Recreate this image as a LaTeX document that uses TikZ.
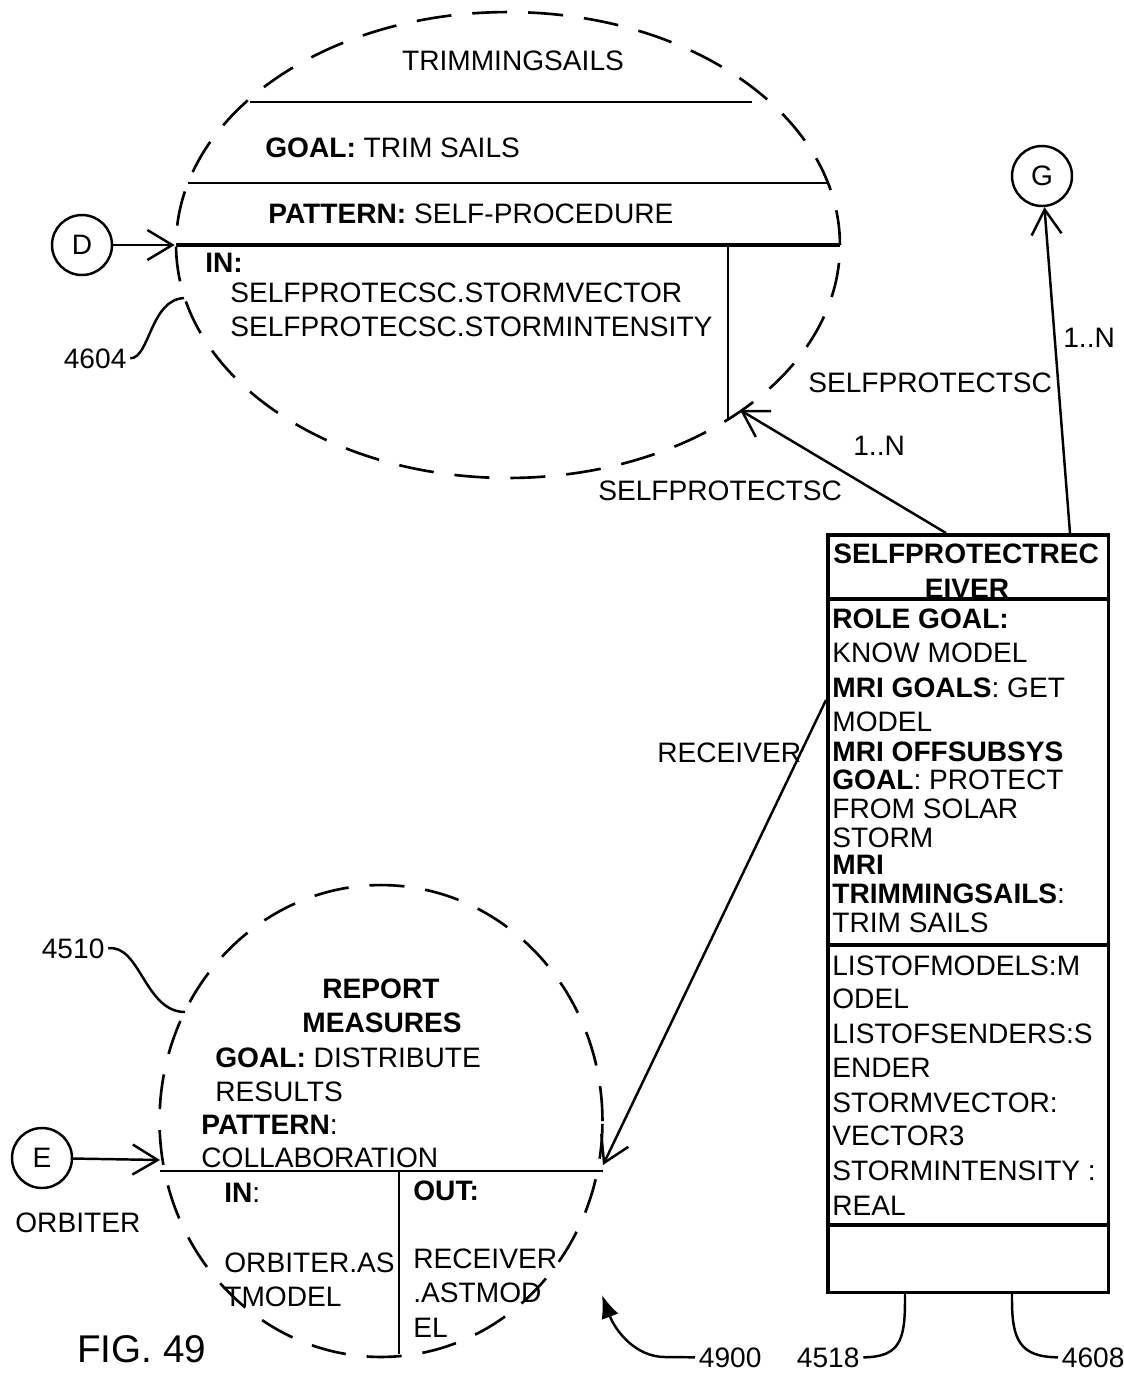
\documentclass[tikz,border=0pt]{standalone}
\usepackage{fontspec}
\setmainfont{Liberation Sans}
\usetikzlibrary{arrows.meta,shapes.geometric,positioning}

\begin{document}
\begin{tikzpicture}[x=0.02cm, y=-0.02cm, every node/.style={font=\fontsize{16}{19}\selectfont},
	txt/.style={anchor=base west, inner sep=0pt},
	ref/.style={anchor=base west, inner sep=2pt},
	dsh/.style={draw, ellipse, line width=1.5pt, dash pattern=on 0.7cm off 0.42cm, inner sep=0pt},
	ln/.style={line width=1.4pt},
	arr/.style={line width=1.4pt, -{Straight Barb[length=5mm,width=6mm]}},
	tag/.style={draw, circle, line width=1.4pt, minimum size=1.2cm, inner sep=0pt}]
	\useasboundingbox (0,0) rectangle (1124,1374);
	% upper ellipse: TRIMMINGSAILS
	\node[dsh, minimum width=13.28cm, minimum height=9.32cm] (trim) at (508,245) {};
	\draw[ln] (250,102) -- (752,102);
	\draw[ln] (188,183) -- (828,183);
	\draw[line width=2pt] (176,245) -- (840,245);
	\draw[ln] (728,245) -- (728,420);
	\node[anchor=base, inner sep=0pt] (trimname) at (513,70) {TRIMMINGSAILS};
	\node[txt] (trimgoal) at (265,157) {\textbf{GOAL:} TRIM SAILS};
	\node[txt] (trimpat) at (268,223) {\textbf{PATTERN:} SELF-PROCEDURE};
	\node[txt] (trimin) at (205,272) {\textbf{IN:}};
	\node[txt] (trimv) at (230,302) {SELFPROTECSC.STORMVECTOR};
	\node[txt] (trimi) at (230,336) {SELFPROTECSC.STORMINTENSITY};
	\node[tag] (d) at (82,245) {D};
	\draw[arr] (d) -- (trim.west);
	\node[ref] (n4604) at (60,368) {4604};
	\draw[ln] (n4604.east) .. controls (150,358) and (150,300) .. (184,298);
	% G connector
	\node[tag] (g) at (1042,176) {G};
	% receiver box
	\node[draw, line width=2pt, anchor=north west, minimum width=5.62cm, minimum height=15.16cm, inner sep=0pt] (rcv) at (826,533) {};
	\draw[line width=2pt] (826,599) -- (1107,599);
	\draw[line width=2pt] (826,945) -- (1107,945);
	\draw[line width=2pt] (826,1225) -- (1107,1225);
	\node[txt] (rcvname) at (833,563) {\textbf{SELFPROTECTREC}};
	\node[anchor=base, inner sep=0pt] (rcvname2) at (967,598) {\textbf{EIVER}};
	\foreach \yy/\rowtext [count=\i] in {628/{\textbf{ROLE GOAL:}}, 662/{KNOW MODEL}, 697/{\textbf{MRI GOALS}: GET}, 731/{MODEL}, 761/{\textbf{MRI OFFSUBSYS}}, 789/{\textbf{GOAL}: PROTECT}, 818/{FROM SOLAR}, 847/{STORM}, 874/{\textbf{MRI}}, 903/{\textbf{TRIMMINGSAILS}:}, 932/{TRIM SAILS}}
		\node[txt] (role\i) at (832,\yy) {\rowtext};
	\foreach \yy/\rowtext [count=\i] in {975/{LISTOFMODELS:M}, 1008/{ODEL}, 1043/{LISTOFSENDERS:S}, 1077/{ENDER}, 1112/{STORMVECTOR:}, 1145/{VECTOR3}, 1180/{STORMINTENSITY :}, 1215/{REAL}}
		\node[txt] (attr\i) at (832,\yy) {\rowtext};
	\coordinate (rcvA) at (946,533);
	\coordinate (rcvB) at (1070,533);
	\coordinate (rcvC) at (826,700);
	\coordinate (trimend) at (740,410);
	\draw[arr] (rcvA) -- (trimend);
	\draw[arr] (rcvB) -- (g);
	\node[txt] (sc1) at (808,392) {SELFPROTECTSC};
	\node[txt] (m1) at (1063,347) {1..N};
	\node[txt] (m2) at (853,455) {1..N};
	\node[txt] (sc2) at (598,500) {SELFPROTECTSC};
	\node[txt] (recv) at (657,762) {RECEIVER};
	\node[ref] (n4518) at (793,1367) {4518};
	\node[ref] (n4608) at (1058,1367) {4608};
	\draw[ln] (n4518.east) .. controls (900,1357) and (905,1340) .. (905,1300) -- (905,1291);
	\draw[ln] (n4608.west) .. controls (1020,1357) and (1012,1340) .. (1012,1300) -- (1012,1291);
	% lower ellipse: REPORT MEASURES
	\node[dsh, minimum width=8.86cm, minimum height=9.44cm] (rep) at (381,1121) {};
	\draw[ln] (160,1171) -- (603,1171);
	\draw[ln] (399,1171) -- (399,1354);
	\node[anchor=base, inner sep=0pt] (repname) at (381,998) {\textbf{REPORT}};
	\node[anchor=base, inner sep=0pt] (repname2) at (382,1032) {\textbf{MEASURES}};
	\node[txt] (repgoal) at (215,1067) {\textbf{GOAL:} DISTRIBUTE};
	\node[txt] (repgoal2) at (215,1101) {RESULTS};
	\node[txt] (reppat) at (201,1134) {\textbf{PATTERN}:};
	\node[txt] (reppat2) at (201,1167) {COLLABORATION};
	\node[txt] (repin) at (224,1202) {\textbf{IN}:};
	\node[txt] (repout) at (413,1200) {\textbf{OUT:}};
	\node[txt] (repin1) at (224,1272) {ORBITER.AS};
	\node[txt] (repin2) at (224,1306) {TMODEL};
	\node[txt] (repout1) at (413,1268) {RECEIVER};
	\node[txt] (repout2) at (413,1302) {.ASTMOD};
	\node[txt] (repout3) at (413,1337) {EL};
	\node[tag] (e) at (42,1158) {E};
	\node[txt] (orb) at (15,1232) {ORBITER};
	\coordinate (repleft) at (160,1160);
	\coordinate (repright) at (603,1165);
	\draw[arr] (e) -- (repleft);
	\draw[arr] (rcvC) -- (repright);
	\node[ref] (n4510) at (38,958) {4510};
	\draw[ln] (n4510.east) .. controls (140,944) and (145,1012) .. (185,1012);
	\node[ref] (n4900) at (695,1367) {4900};
	\coordinate (tip4900) at (602,1295);
	\draw[ln, -{Latex[length=4.6mm,width=3.6mm]}] (n4900.west) -- (665,1357) .. controls (635,1357) and (615,1330) .. (tip4900);
	\node[txt, font=\fontsize{22}{26}\selectfont] (fig) at (77,1362) {FIG. 49};
\end{tikzpicture}
\end{document}
